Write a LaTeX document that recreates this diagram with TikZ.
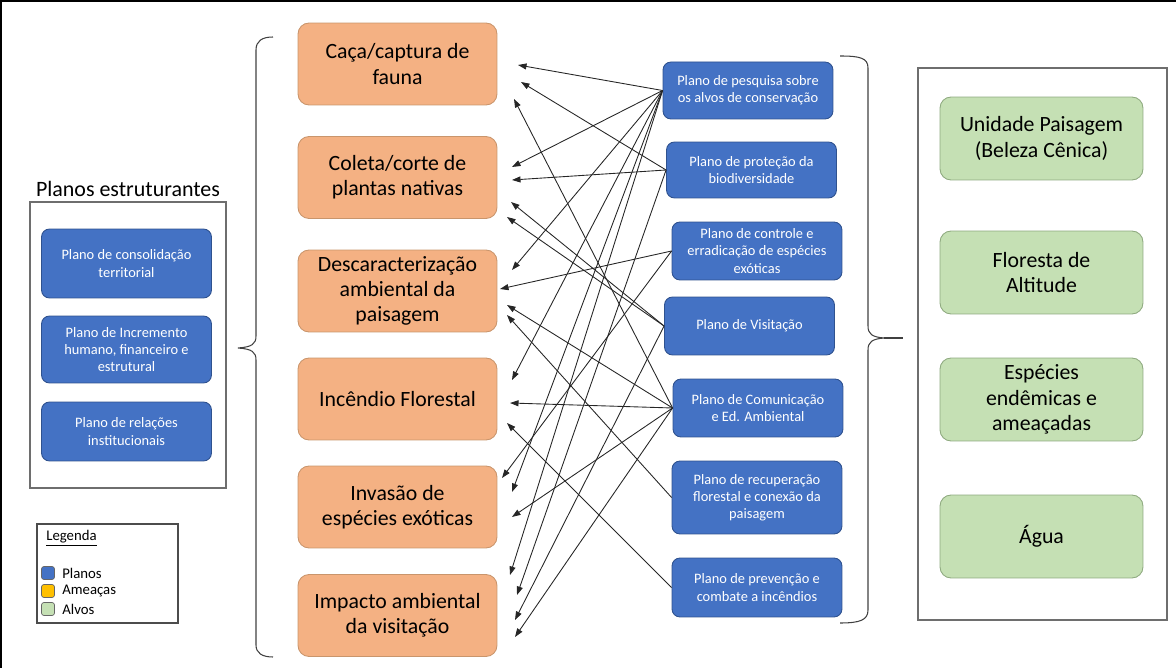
\documentclass[tikz,border=0pt]{standalone}
\usepackage{fontspec}
\setmainfont{Carlito}
\usetikzlibrary{arrows.meta}
\definecolor{bluefill}{HTML}{4472C4}
\definecolor{blueline}{HTML}{2F528F}
\definecolor{orangefill}{HTML}{F4B183}
\definecolor{orangeline}{HTML}{C9956C}
\definecolor{greenfill}{HTML}{C5E0B4}
\definecolor{greenline}{HTML}{8FAA80}
\definecolor{goldfill}{HTML}{FFC000}
\definecolor{frame}{HTML}{6E6E6E}
\tikzset{
 threat/.style={draw=orangeline, fill=orangefill, line width=0.5pt, rounded corners=0.22cm, minimum width=3.98cm, minimum height=1.64cm, align=center, font=\fontsize{12.4}{14.4}\selectfont, inner sep=1pt},
 target/.style={draw=greenline, fill=greenfill, line width=0.5pt, rounded corners=0.22cm, minimum width=4.06cm, minimum height=1.66cm, align=center, font=\fontsize{12.4}{14.4}\selectfont, inner sep=1pt},
 plan/.style={draw=blueline, fill=bluefill, text=white, line width=0.5pt, rounded corners=0.16cm, minimum width=3.4cm, align=center, font=\fontsize{8.2}{9.8}\selectfont, inner sep=1pt},
 arr/.style={-{Triangle[length=0.17cm,width=0.12cm]}, line width=0.5pt, draw=black!85},
 panel/.style={draw=frame, line width=1pt},
 brace/.style={draw=black!75, line width=0.6pt},
 legsq/.style={draw=black!60, line width=0.4pt, rounded corners=0.05cm, minimum size=0.26cm, inner sep=0pt},
 legtxt/.style={anchor=west, font=\fontsize{8.4}{9}\selectfont, inner sep=0pt},
}
\begin{document}
\begin{tikzpicture}[x=0.02cm, y=-0.02cm]
\useasboundingbox (0,0) rectangle (1176,668);
\draw[line width=1.2pt] (1,668) -- (1,1) -- (1176,1);

% left panel
\node (ptitle) at (128,189) {\fontsize{12.5}{14}\selectfont Planos estruturantes};
\draw[panel] (30,202) rectangle (226,488);
\node[plan, minimum height=1.38cm] (b1) at (126.5,263.5) {Plano de consolidação\\territorial};
\node[plan, minimum height=1.34cm] (b2) at (126.5,349.5) {Plano de Incremento\\humano, financeiro e\\estrutural};
\node[plan, minimum height=1.18cm] (b3) at (126.5,431.5) {Plano de relações\\institucionais};

% legend
\draw[draw=black!70, line width=0.6pt] (37,524) rectangle (178,623);
\node[legtxt] (lt) at (46,538) {\underline{Legenda}};
\node[legsq, fill=bluefill] (sq1) at (48,573) {};
\node[legsq, fill=goldfill] (sq2) at (48,591) {};
\node[legsq, fill=greenfill] (sq3) at (48,609) {};
\node[legtxt] (l1) at (62,573) {Planos};
\node[legtxt] (l2) at (62,591) {Ameaças};
\node[legtxt] (l3) at (62,609) {Alvos};

% left brace
\draw[brace] (273,37) .. controls (262,37) and (256,41) .. (256,50) -- (256,336)
  .. controls (256,344) and (252,347) .. (238,348)
  .. controls (252,349) and (256,352) .. (256,360) -- (256,645)
  .. controls (256,653) and (262,657) .. (273,657);

% threats
\node[threat] (t1) at (397.5,64) {Caça/captura de\\fauna};
\node[threat] (t2) at (397.5,177.5) {Coleta/corte de\\plantas nativas};
\node[threat] (t3) at (397.5,291) {Descaracterização\\ambiental da\\paisagem};
\node[threat] (t4) at (397.5,399) {Incêndio Florestal};
\node[threat] (t5) at (397.5,507) {Invasão de\\espécies exóticas};
\node[threat] (t6) at (397.5,615.5) {Impacto ambiental\\da visitação};

% plans
\node[plan, minimum height=1.14cm] (p1) at (748,90.5) {Plano de pesquisa sobre\\os alvos de conservação};
\node[plan, minimum height=1.12cm] (p2) at (751.5,170) {Plano de proteção da\\biodiversidade};
\node[plan, minimum height=1.16cm] (p3) at (757,251) {Plano de controle e\\erradicação de espécies\\exóticas};
\node[plan, minimum height=1.16cm] (p4) at (749.5,326) {Plano de Visitação};
\node[plan, minimum height=1.16cm] (p5) at (758,408) {Plano de Comunicação\\e Ed. Ambiental};
\node[plan, minimum height=1.46cm] (p6) at (757,497.5) {Plano de recuperação\\florestal e conexão da\\paisagem};
\node[plan, minimum height=1.18cm] (p7) at (757,587.5) {Plano de prevenção e\\combate a incêndios};

% right brace
\draw[brace] (840,56) .. controls (860,56) and (868,58) .. (868,68) -- (868,326)
  .. controls (868,334) and (872,337) .. (884,338)
  .. controls (872,339) and (868,342) .. (868,350) -- (868,610)
  .. controls (868,620) and (860,623) .. (840,623);
\draw[brace] (884,338) -- (903,338);

% targets
\draw[panel] (918,68) rectangle (1167,620);
\node[target] (g1) at (1041.5,138.5) {Unidade Paisagem\\(Beleza Cênica)};
\node[target] (g2) at (1041.5,272.5) {Floresta de\\Altitude};
\node[target] (g3) at (1041.5,399.5) {Espécies\\endêmicas e\\ameaçadas};
\node[target] (g4) at (1041.5,536.5) {Água};

% arrow heads (free ends)
\foreach \n/\x/\y in {1/518/65, 2/521/82, 3/514/99, 4/512/167, 5/512/180, 6/511/202, 7/507/217,
  8/512/270, 9/500/289, 10/507/305, 11/507/315, 12/512/380, 13/510/403, 14/507/423, 15/502/478,
  16/512/492, 17/512/517, 18/510/575, 19/517/595, 20/515/620, 21/515/637}
  \coordinate (h\n) at (\x,\y);

\foreach \s/\n in {p1/1, p2/2, p5/3, p1/4, p2/5, p4/6, p4/7, p1/8, p3/9, p5/10, p6/11, p1/12,
  p5/13, p7/14, p3/15, p1/16, p5/17, p1/18, p2/19, p4/20, p5/21}
  \draw[arr] (\s.west) -- (h\n);
\end{tikzpicture}
\end{document}
